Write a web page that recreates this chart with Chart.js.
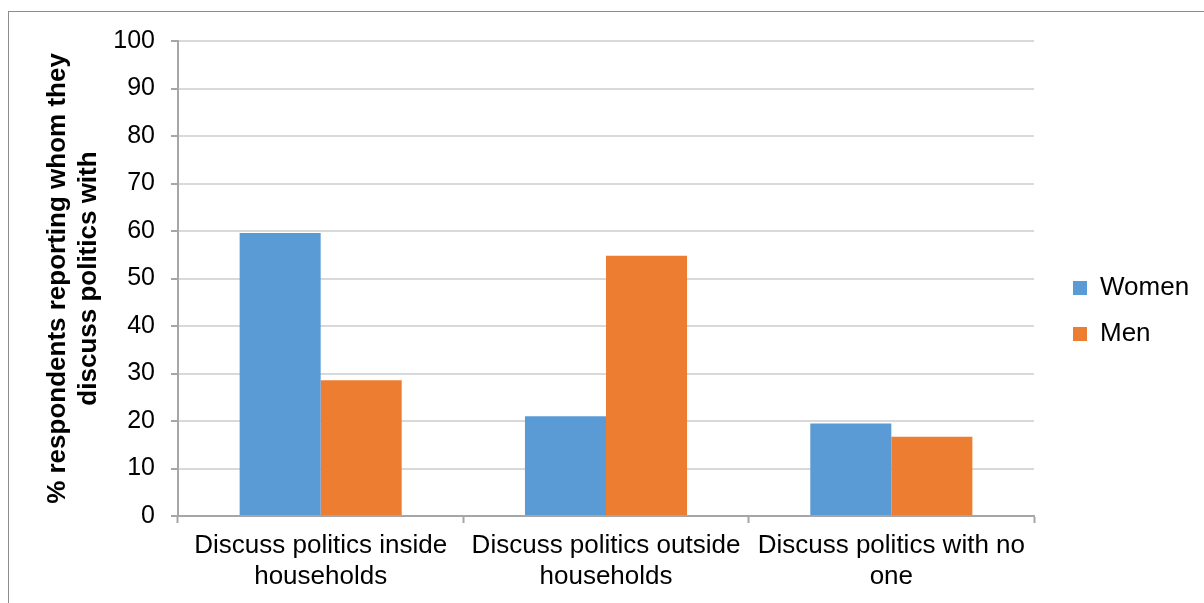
<!DOCTYPE html>
<html>
<head>
<meta charset="utf-8">
<script src="https://cdn.jsdelivr.net/npm/chart.js@4.4.1/dist/chart.umd.min.js"></script>
<style>
  html, body { margin: 0; padding: 0; background: #fff; overflow: hidden; }
  #frame { position: absolute; left: 8px; top: 11px; width: 1300px; height: 700px; border: 1px solid #8c8c8c; }
  #wrap { position: absolute; left: 0; top: 0; width: 1204px; height: 603px; }
</style>
</head>
<body>
<div id="frame"></div>
<div id="wrap"><canvas id="bar-chart" width="1204" height="603"></canvas></div>
<script>
const categories = [
  ["Discuss politics inside", "households"],
  ["Discuss politics outside", "households"],
  ["Discuss politics with no", "one"]
];
const women = [59.6, 21.0, 19.5];
const men = [28.6, 54.8, 16.7];
const seriesNames = ["Women", "Men"];
const yTitle = ["% respondents reporting whom they", "discuss politics with"];

Chart.defaults.font.family = "'Liberation Sans', Arial, sans-serif";
Chart.defaults.font.size = 26;
Chart.defaults.color = "#000";

// keep the legend a fixed width and move it to where Excel puts it
const legendSpot = {
  id: "legendSpot",
  beforeLayout(chart) {
    const lg = chart.legend;
    if (!lg || lg.fitFixed) return;
    const fit = lg.fit.bind(lg);
    lg.fit = function () {
      fit();
      this.width = 170;
    };
    lg.fitFixed = true;
  },
  afterLayout(chart) {
    const lg = chart.legend;
    if (!lg) return;
    lg.left = 1053;
    lg.right = lg.left + lg.width;
    lg.top = 255;
    lg.height = 150;
    lg.bottom = lg.top + lg.height;
  }
};

let config = {
  type: "bar",
  data: {
    labels: categories,
    datasets: [
      {
        label: seriesNames[0],
        data: women,
        backgroundColor: "#5B9BD5",
        borderWidth: 0,
        categoryPercentage: 0.568,
        barPercentage: 1
      },
      {
        label: seriesNames[1],
        data: men,
        backgroundColor: "#ED7D31",
        borderWidth: 0,
        categoryPercentage: 0.568,
        barPercentage: 1
      }
    ]
  },
  options: {
    responsive: false,
    animation: false,
    layout: {
      padding: { top: 41, left: 30, right: 0, bottom: 0 }
    },
    plugins: {
      title: { display: false },
      tooltip: { enabled: false },
      legend: {
        position: "right",
        align: "start",
        labels: {
          boxWidth: 14,
          boxHeight: 14,
          padding: 20,
          color: "#000",
          font: { size: 26 }
        }
      }
    },
    scales: {
      x: {
        z: 1,
        grid: {
          offset: true,
          drawOnChartArea: false,
          drawTicks: true,
          tickLength: 7,
          tickColor: "#a6a6a6",
          tickWidth: 2
        },
        border: { color: "#a6a6a6", width: 2 },
        ticks: {
          color: "#000",
          font: { size: 26 },
          padding: 7,
          maxRotation: 0,
          autoSkip: false
        },
        afterFit(scale) {
          scale.height = 87;
        }
      },
      y: {
        min: 0,
        max: 100,
        ticks: {
          stepSize: 10,
          padding: 16,
          color: "#000",
          font: { size: 25 }
        },
        grid: {
          color: "#d9d9d9",
          lineWidth: 2,
          tickColor: "#a6a6a6",
          tickLength: 7,
          tickWidth: 2
        },
        border: { color: "#a6a6a6", width: 2 },
        title: {
          display: true,
          text: yTitle,
          color: "#000",
          font: { size: 26, weight: "bold" },
          padding: { top: 12, bottom: 0 }
        },
        afterFit(scale) {
          scale.width = 148;
        }
      }
    }
  },
  plugins: [legendSpot]
};

let ctx = document.getElementById("bar-chart").getContext("2d");
window.myBar = new Chart(ctx, config);
</script>
</body>
</html>
